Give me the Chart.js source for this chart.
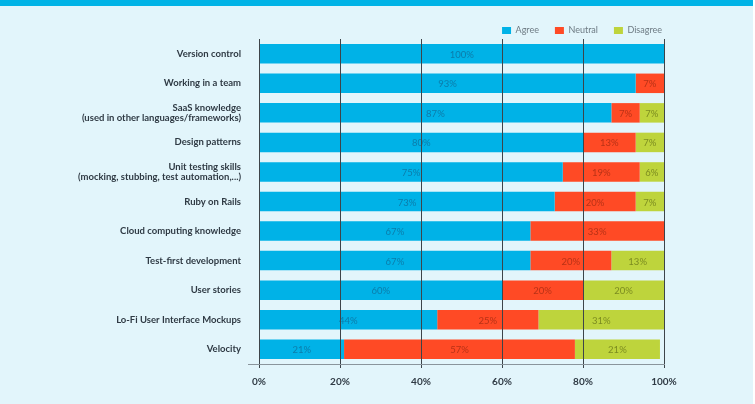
<!DOCTYPE html>
<html>
<head>
<meta charset="utf-8">
<script src="https://cdn.jsdelivr.net/npm/chart.js"></script>
<style>
  body { margin: 0; background: #ffffff; }
  #wrap { position: absolute; left: 0; top: 0; width: 753px; height: 404px; background: #e2f5fb; }
  #banner { position: absolute; left: 0; top: 0; width: 753px; height: 6px; background: #00b3e6; }
</style>
</head>
<body>
<div id="wrap"><canvas id="myChart" width="753" height="404"></canvas></div>
<div id="banner"></div>

<script>
// skills and survey answers (percent of students)
const skills = [
    'Version control',
    'Working in a team',
    ['SaaS knowledge', '(used in other languages/frameworks)'],
    'Design patterns',
    ['Unit testing skills', '(mocking, stubbing, test automation,...)'],
    'Ruby on Rails',
    'Cloud computing knowledge',
    'Test-first development',
    'User stories',
    'Lo-Fi User Interface Mockups',
    'Velocity'
];
const agree    = [100, 93, 87, 80, 75, 73, 67, 67, 60, 44, 21];
const neutral  = [0, 7, 7, 13, 19, 20, 33, 20, 20, 25, 57];
const disagree = [0, 0, 7, 7, 6, 7, 0, 13, 20, 31, 21];
const xTicks = [0, 20, 40, 60, 80, 100];

const textColors = ['rgba(20,80,120,0.55)', 'rgba(120,30,10,0.55)', 'rgba(70,80,10,0.55)'];

// percent labels in the middle of each segment
const barLabels = {
    id: 'barLabels',
    afterDatasetsDraw(chart) {
        const ctx = chart.ctx;
        ctx.save();
        ctx.font = '9.5px Lato';
        ctx.textAlign = 'center';
        ctx.textBaseline = 'middle';
        chart.data.datasets.forEach((ds, i) => {
            chart.getDatasetMeta(i).data.forEach((bar, j) => {
                const v = ds.data[j];
                if (!v) return;
                const right = Math.min(bar.x, chart.chartArea.right);
                ctx.fillStyle = textColors[i];
                ctx.fillText(v + '%', (bar.base + right) / 2, bar.y + 1);
            });
        });
        ctx.restore();
    }
};

// bottom axis line, runs a little past the plot on the left
const baseLine = {
    id: 'baseLine',
    afterDraw(chart) {
        const a = chart.chartArea;
        const ctx = chart.ctx;
        ctx.save();
        ctx.strokeStyle = '#8a959c';
        ctx.lineWidth = 1;
        ctx.beginPath();
        ctx.moveTo(a.left - 11, a.bottom + 0.5);
        ctx.lineTo(a.right + 1, a.bottom + 0.5);
        ctx.stroke();
        ctx.restore();
    }
};

// legend sits tighter to the plot and flush with its right edge
const legendTweak = {
    id: 'legendTweak',
    beforeLayout(chart) {
        const l = chart.legend;
        if (l && !l._tweaked) {
            const fit = l.fit;
            l.fit = function () { fit.call(this); this.height -= 6; };
            l._tweaked = true;
        }
    },
    afterLayout(chart) {
        chart.legend.left += 14;
        chart.legend.right += 14;
    }
};

new Chart(document.getElementById('myChart'), {
    type: 'bar',
    data: {
        labels: skills,
        datasets: [
            { label: 'Agree', data: agree, backgroundColor: '#00b2e7' },
            { label: 'Neutral', data: neutral, backgroundColor: '#ff4a25' },
            { label: 'Disagree', data: disagree, backgroundColor: '#bed43c' }
        ]
    },
    options: {
        indexAxis: 'y',
        responsive: false,
        animation: false,
        devicePixelRatio: 1,
        barPercentage: 0.66,
        categoryPercentage: 1,
        layout: { padding: { top: 10, right: 89, bottom: 0, left: 0 } },
        plugins: {
            tooltip: { enabled: false },
            legend: {
                position: 'top',
                align: 'end',
                labels: {
                    boxWidth: 9,
                    boxHeight: 7,
                    padding: 16,
                    color: '#6d7a83',
                    font: { family: 'Lato', size: 9 }
                }
            }
        },
        scales: {
            x: {
                stacked: true,
                min: 0,
                max: 100,
                z: 1,
                afterFit: (s) => { s.height = 40; },
                afterBuildTicks: (s) => { s.ticks = xTicks.map(v => ({ value: v })); },
                grid: { z: 1, color: '#3d4449', lineWidth: 1, tickLength: 4, drawTicks: true },
                border: { display: false },
                ticks: {
                    padding: 8,
                    maxRotation: 0,
                    color: '#2f3a44',
                    font: { family: 'Lato', size: 10, weight: 'bold' },
                    callback: (v) => v + '%'
                }
            },
            y: {
                stacked: true,
                afterFit: (s) => { s.width = 259; },
                grid: { display: false },
                border: { display: false },
                ticks: {
                    padding: 10,
                    autoSkip: false,
                    color: '#2f3a44',
                    font: { family: 'Lato', size: 9.5, weight: 'bold', lineHeight: 1.1 }
                }
            }
        }
    },
    plugins: [barLabels, baseLine, legendTweak]
});
</script>
</body>
</html>
